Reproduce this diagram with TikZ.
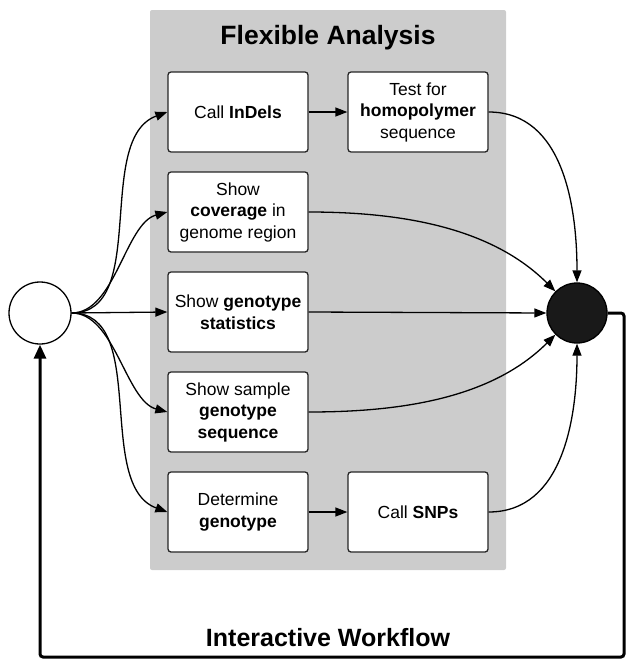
\documentclass[tikz,border=0pt]{standalone}
\usepackage{fontspec}
\setmainfont{Liberation Sans}
\usetikzlibrary{arrows.meta}
\begin{document}
\begin{tikzpicture}[x=1pt,y=-1pt,
  stepbox/.style={draw=black!85,line width=1.3pt,fill=white,rounded corners=3pt,minimum width=140pt,minimum height=80pt,align=center,font=\fontsize{17.5}{21.5}\selectfont,inner sep=1pt},
  conn/.style={line width=1.3pt,-{Triangle[length=12pt,width=9pt]}},
  every node/.style={text=black}]
\useasboundingbox (0,0) rectangle (627,659);
\fill[black!20,rounded corners=2pt] (150,10) rectangle (506,570);
\node[font=\bfseries\fontsize{26.5}{30}\selectfont] (title) at (328,38) {Flexible Analysis};
\node[stepbox] (indel) at (238,112) {Call \textbf{InDels}};
\node[stepbox] (homo) at (418,112) {Test for\\\textbf{homopolymer}\\sequence};
\node[stepbox] (cov) at (238,212) {Show\\\textbf{coverage} in\\genome region};
\node[stepbox] (gstat) at (238,312) {Show \textbf{genotype}\\\textbf{statistics}};
\node[stepbox] (gseq) at (238,412) {Show sample\\\textbf{genotype}\\\textbf{sequence}};
\node[stepbox] (det) at (238,512) {Determine\\\textbf{genotype}};
\node[stepbox] (snp) at (418,512) {Call \textbf{SNPs}};
\node[circle,draw,line width=1.3pt,fill=white,minimum size=62pt,inner sep=0pt] (start) at (40,313) {};
\node[circle,draw,line width=1.3pt,fill=black!90,minimum size=60pt,inner sep=0pt] (end) at (577,313) {};
\node[font=\bfseries\fontsize{25}{30}\selectfont] (wf) at (328,638) {Interactive Workflow};
% left fan
\draw[conn] (start.east) to[out=0,in=200,looseness=0.9] (indel.west);
\draw[conn] (start.east) to[out=0,in=195,looseness=0.8] (cov.west);
\draw[conn] (start.east) -- (gstat.west);
\draw[conn] (start.east) to[out=0,in=165,looseness=0.8] (gseq.west);
\draw[conn] (start.east) to[out=0,in=160,looseness=0.9] (det.west);
% middle
\draw[conn] (indel.east) -- (homo.west);
\draw[conn] (det.east) -- (snp.west);
% right fan
\draw[conn] (homo.east) to[out=0,in=90,looseness=1.0] (end.north);
\draw[conn] (cov.east) to[out=0,in=135,looseness=0.9] (end.north west);
\draw[conn] (gstat.east) -- (end.west);
\draw[conn] (gseq.east) to[out=0,in=225,looseness=0.9] (end.south west);
\draw[conn] (snp.east) to[out=0,in=270,looseness=1.0] (end.south);
% loop
\coordinate (c1) at (624,313);
\coordinate (c2) at (624,657);
\coordinate (c3) at (40,657);
\draw[line width=3pt,rounded corners=3pt,-{Triangle[length=14pt,width=12pt]}] (end.east) -- (c1) -- (c2) -- (c3) -- (start.south);
\end{tikzpicture}
\end{document}
